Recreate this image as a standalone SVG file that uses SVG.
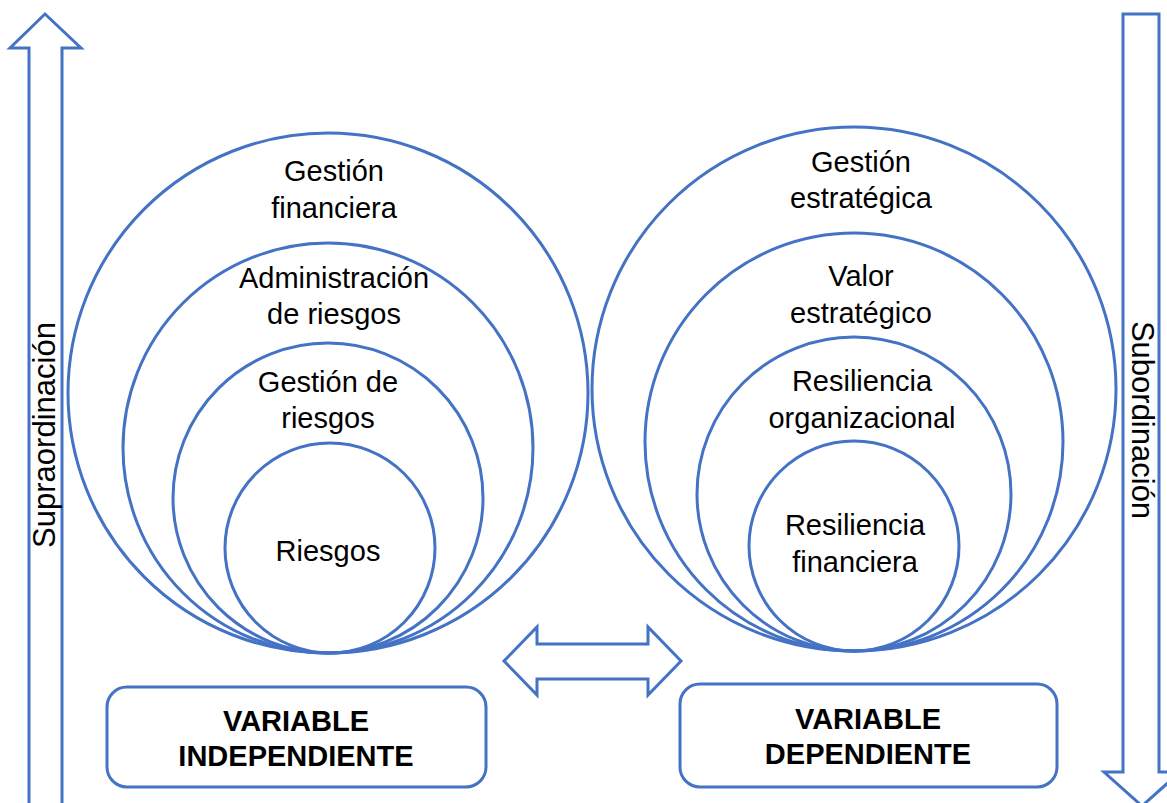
<svg xmlns="http://www.w3.org/2000/svg" width="1167" height="803" viewBox="0 0 1167 803">
<style>
.c{fill:none;stroke:#4472C4;stroke-width:3}
.a{fill:#fff;stroke:#4472C4;stroke-width:3;stroke-linejoin:miter}
.t{font-family:"Liberation Sans",Arial,sans-serif;font-size:29px;fill:#000;text-anchor:middle}
.r{font-family:"Liberation Sans",Arial,sans-serif;font-size:31px;fill:#000;text-anchor:middle}
.b{font-family:"Liberation Sans",Arial,sans-serif;font-size:29px;font-weight:bold;fill:#000;text-anchor:middle}
</style>
<rect width="1167" height="803" fill="#fff"/>
<g id="arrow-supra">
<polygon class="a" points="45,14 81,48 62,48 62,810 29,810 29,48 10,48"/>
<text class="r" transform="translate(55,435) rotate(-90)">Supraordinación</text>
</g>
<g id="arrow-sub">
<polygon class="a" points="1123,14 1159,14 1159,772 1180,772 1142,806 1104,772 1123,772"/>
<text class="r" transform="translate(1132,420) rotate(90)">Subordinación</text>
</g>
<g id="left-circles">
<g id="gestion-financiera"><circle class="c" cx="328" cy="393" r="260"/>
<text class="t" x="334" y="181">Gestión</text><text class="t" x="334" y="218">financiera</text></g>
<g id="administracion-riesgos"><circle class="c" cx="328" cy="448" r="205"/>
<text class="t" x="334" y="288">Administración</text><text class="t" x="334" y="324">de riesgos</text></g>
<g id="gestion-riesgos"><circle class="c" cx="328" cy="498" r="155"/>
<text class="t" x="328" y="392">Gestión de</text><text class="t" x="328" y="428">riesgos</text></g>
<g id="riesgos"><circle class="c" cx="330" cy="548" r="105"/>
<text class="t" x="328" y="561">Riesgos</text></g>
</g>
<g id="right-circles">
<g id="gestion-estrategica"><circle class="c" cx="854" cy="389" r="262"/>
<text class="t" x="861" y="172">Gestión</text><text class="t" x="861" y="208">estratégica</text></g>
<g id="valor-estrategico"><circle class="c" cx="854" cy="442" r="209"/>
<text class="t" x="861" y="286">Valor</text><text class="t" x="861" y="323">estratégico</text></g>
<g id="resiliencia-organizacional"><circle class="c" cx="854" cy="494" r="157"/>
<text class="t" x="862" y="391">Resiliencia</text><text class="t" x="862" y="428">organizacional</text></g>
<g id="resiliencia-financiera"><circle class="c" cx="854" cy="546" r="105"/>
<text class="t" x="855" y="535">Resiliencia</text><text class="t" x="855" y="572">financiera</text></g>
</g>
<g id="connectors">
<polygon class="a" points="504,661 537,627 537,644 648,644 648,627 681,661 648,695 648,679 537,679 537,695"/>
</g>
<g id="var-independiente">
<rect class="c" x="107" y="687" width="379" height="100" rx="20"/>
<text class="b" x="296" y="731">VARIABLE</text><text class="b" x="296" y="766">INDEPENDIENTE</text>
</g>
<g id="var-dependiente">
<rect class="c" x="680" y="684" width="377" height="103" rx="20"/>
<text class="b" x="868" y="729">VARIABLE</text><text class="b" x="868" y="764">DEPENDIENTE</text>
</g>
</svg>
